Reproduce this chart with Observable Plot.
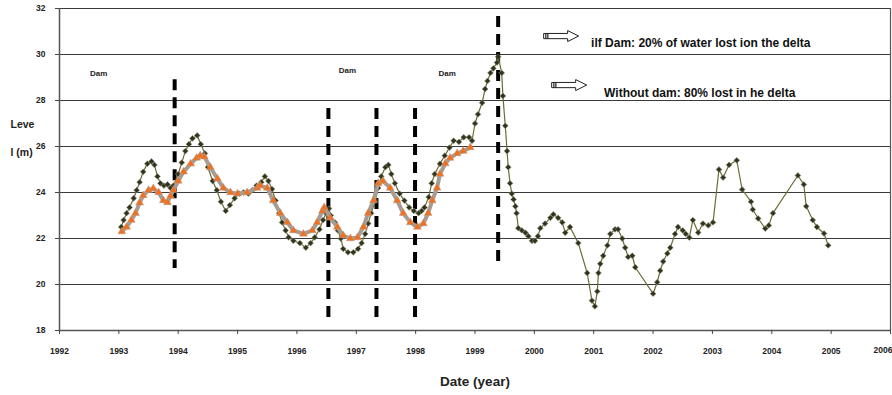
<!DOCTYPE html>
<html>
<head>
<meta charset="utf-8">
<script src="https://cdn.jsdelivr.net/npm/d3@7"></script>
<script src="https://cdn.jsdelivr.net/npm/@observablehq/plot@0.6"></script>
<style>
  html, body { margin: 0; padding: 0; background: #fff; }
</style>
</head>
<body>
<div id="chart"></div>
<script>
// ---- Data ----
const xTicks = [1992, 1993, 1994, 1995, 1996, 1997, 1998, 1999, 2000, 2001, 2002, 2003, 2004, 2005, 2006];
const yTicks = [18, 20, 22, 24, 26, 28, 30, 32];

// Observed level (dark diamonds): [year, level (m)]
const darkSeries = [
  [1993.04, 22.5], [1993.08, 22.8], [1993.13, 23.1], [1993.18, 23.35], [1993.25, 23.75],
  [1993.30, 24.1], [1993.35, 24.45], [1993.41, 24.9], [1993.48, 25.25], [1993.55, 25.35],
  [1993.60, 25.2], [1993.65, 24.7], [1993.70, 24.4], [1993.76, 24.3], [1993.82, 24.35],
  [1993.87, 24.2], [1993.92, 24.3], [1994.00, 24.8], [1994.06, 25.3], [1994.12, 25.8],
  [1994.18, 26.1], [1994.24, 26.35], [1994.32, 26.48], [1994.38, 26.1], [1994.45, 25.7],
  [1994.50, 25.1], [1994.58, 24.5], [1994.65, 24.1], [1994.72, 23.6], [1994.80, 23.2],
  [1994.87, 23.45], [1994.95, 23.75], [1995.03, 23.95], [1995.10, 24.0], [1995.18, 23.95],
  [1995.25, 24.1], [1995.32, 24.3], [1995.40, 24.45], [1995.46, 24.7], [1995.52, 24.5],
  [1995.58, 24.15], [1995.64, 23.65], [1995.70, 23.1], [1995.75, 22.7], [1995.81, 22.35],
  [1995.86, 22.05], [1995.94, 21.9], [1996.05, 21.8], [1996.15, 21.6], [1996.23, 21.8],
  [1996.30, 22.05], [1996.38, 22.4], [1996.44, 22.8], [1996.49, 23.1], [1996.54, 23.3],
  [1996.57, 23.0], [1996.64, 22.7], [1996.69, 22.35], [1996.74, 22.0], [1996.78, 21.55],
  [1996.86, 21.4], [1996.95, 21.4], [1997.03, 21.55], [1997.09, 21.8], [1997.15, 22.2],
  [1997.20, 22.65], [1997.25, 23.1], [1997.32, 23.65], [1997.37, 24.2], [1997.42, 24.7],
  [1997.49, 25.1], [1997.54, 25.2], [1997.59, 24.8], [1997.65, 24.4], [1997.73, 23.95],
  [1997.81, 23.65], [1997.89, 23.35], [1997.97, 23.2], [1998.05, 23.1], [1998.10, 23.2],
  [1998.15, 23.35], [1998.22, 23.8], [1998.27, 24.4], [1998.32, 24.8], [1998.41, 25.25],
  [1998.49, 25.6], [1998.57, 25.95], [1998.64, 26.25], [1998.73, 26.2], [1998.81, 26.4],
  [1998.90, 26.4], [1998.95, 26.25], [1999.00, 27.0], [1999.05, 27.4], [1999.12, 27.9],
  [1999.17, 28.5], [1999.21, 28.85], [1999.26, 29.2], [1999.31, 29.4], [1999.37, 29.65],
  [1999.39, 29.9], [1999.45, 29.2], [1999.47, 28.2], [1999.51, 26.9], [1999.54, 25.8],
  [1999.56, 25.1], [1999.59, 24.4], [1999.62, 23.95], [1999.65, 23.7], [1999.68, 23.4],
  [1999.70, 23.1], [1999.73, 22.45], [1999.79, 22.35], [1999.85, 22.25], [1999.90, 22.1],
  [1999.96, 21.9], [2000.01, 21.9], [2000.06, 22.1], [2000.10, 22.45], [2000.18, 22.65],
  [2000.27, 22.9], [2000.32, 23.05], [2000.40, 22.9], [2000.47, 22.7], [2000.52, 22.25],
  [2000.60, 22.5], [2000.74, 21.8], [2000.89, 20.5], [2000.97, 19.3], [2001.02, 19.05],
  [2001.06, 19.7], [2001.08, 20.5], [2001.11, 20.9], [2001.16, 21.25], [2001.23, 21.7],
  [2001.28, 22.2], [2001.36, 22.4], [2001.41, 22.4], [2001.48, 22.0], [2001.53, 21.6],
  [2001.58, 21.2], [2001.65, 21.25], [2001.70, 20.75], [2002.00, 19.6], [2002.07, 20.1],
  [2002.12, 20.6], [2002.17, 21.0], [2002.24, 21.35], [2002.29, 21.6], [2002.37, 22.2],
  [2002.42, 22.5], [2002.50, 22.35], [2002.55, 22.2], [2002.61, 22.04], [2002.67, 22.8],
  [2002.76, 22.26], [2002.84, 22.65], [2002.93, 22.57], [2003.01, 22.7], [2003.11, 25.0],
  [2003.18, 24.65], [2003.28, 25.2], [2003.41, 25.4], [2003.50, 24.13], [2003.65, 23.6],
  [2003.68, 23.26], [2003.77, 22.87], [2003.89, 22.43], [2003.95, 22.57], [2004.02, 23.1],
  [2004.44, 24.74], [2004.54, 24.35], [2004.58, 23.4], [2004.69, 22.8], [2004.76, 22.5],
  [2004.88, 22.22], [2004.95, 21.7]
];

// Level with dam (orange triangles): [year, level (m)]
const damSeries = [
  [1993.05, 22.3], [1993.13, 22.5], [1993.21, 22.8], [1993.28, 23.1], [1993.35, 23.55],
  [1993.41, 23.87], [1993.50, 24.1], [1993.58, 24.17], [1993.67, 24.0], [1993.75, 23.65],
  [1993.82, 23.57], [1993.87, 23.85], [1993.92, 24.1], [1994.00, 24.5], [1994.09, 24.9],
  [1994.21, 25.25], [1994.31, 25.5], [1994.37, 25.6], [1994.44, 25.55], [1994.54, 25.1],
  [1994.66, 24.6], [1994.76, 24.2], [1994.88, 24.0], [1995.00, 23.95], [1995.16, 24.0],
  [1995.33, 24.2], [1995.38, 24.3], [1995.50, 24.2], [1995.60, 23.65], [1995.72, 23.1],
  [1995.84, 22.7], [1995.94, 22.35], [1996.11, 22.2], [1996.26, 22.35], [1996.34, 22.7],
  [1996.43, 23.2], [1996.46, 23.35], [1996.56, 22.9], [1996.68, 22.5], [1996.78, 22.13],
  [1996.90, 22.0], [1997.02, 22.04], [1997.12, 22.5], [1997.20, 23.1], [1997.29, 23.65],
  [1997.37, 24.4], [1997.45, 24.5], [1997.57, 24.2], [1997.69, 23.65], [1997.79, 23.1],
  [1997.91, 22.7], [1998.03, 22.5], [1998.13, 22.65], [1998.21, 23.1], [1998.28, 23.65],
  [1998.36, 24.2], [1998.41, 24.8], [1998.50, 25.26], [1998.58, 25.5], [1998.70, 25.7],
  [1998.80, 25.8], [1998.92, 25.96]
];

// Dashed dam markers
const dashX = [1993.94, 1996.53, 1997.34, 1997.99, 1999.39];
const dashTop = [28.9, 27.65, 27.65, 27.65, 31.65];
const dashBottom = [20.7, 18.57, 18.57, 18.57, 20.85];

// "Dam" labels
const damLabelX = [1992.66, 1996.85, 1998.53];
const damLabelY = [29.17, 29.3, 29.17];

// Annotations
const noteText = ["ilf Dam: 20% of water lost ion the delta", "Without dam: 80% lost in he delta"];
const noteX = [2000.956, 2001.175];
const noteY = [30.48, 28.33];
const arrowX = [2000.165, 2000.30];
const arrowY = [30.78, 28.65];

// ---- Tables ----
const dark = darkSeries.map(([year, level]) => ({year, level}));
const dam = damSeries.map(([year, level]) => ({year, level}));
const dashes = dashX.map((d, i) => ({x: d, top: dashTop[i], bottom: dashBottom[i]}));
const damLabels = damLabelX.map((d, i) => ({x: d, y: damLabelY[i], t: "Dam"}));
const notes = noteText.map((t, i) => ({t, x: noteX[i], y: noteY[i]}));
const lastTick = xTicks[xTicks.length - 1];

const font = "'Liberation Sans', Arial, Helvetica, sans-serif";

function arrows(index, scales) {
  const g = d3.create("svg:g");
  arrowX.forEach((ax, i) => {
    const x0 = scales.x(ax), y0 = scales.y(arrowY[i]);
    const L = 35, sh = 2.6, hh = 5.5, hl = 11;
    g.append("path")
      .attr("d", `M${x0},${y0 - sh}L${x0 + L - hl},${y0 - sh}L${x0 + L - hl},${y0 - hh}L${x0 + L},${y0}L${x0 + L - hl},${y0 + hh}L${x0 + L - hl},${y0 + sh}L${x0},${y0 + sh}Z`)
      .attr("fill", "white").attr("stroke", "#222").attr("stroke-width", 1);
    [2.2, 4.2].forEach(o => g.append("line")
      .attr("x1", x0 + o).attr("x2", x0 + o).attr("y1", y0 - sh).attr("y2", y0 + sh)
      .attr("stroke", "#222").attr("stroke-width", 1.2));
  });
  return g.node();
}

const chart = Plot.plot({
  width: 892,
  height: 395,
  marginLeft: 59,
  marginRight: 2,
  marginTop: 8,
  marginBottom: 65,
  style: {fontFamily: font, background: "white", color: "#222"},
  x: {domain: [1992, 2006]},
  y: {domain: [18, 32]},
  marks: [
    Plot.gridY(yTicks, {stroke: "#3a3a3a", strokeOpacity: 1, strokeWidth: 1}),
    Plot.ruleX([1992], {stroke: "#555", strokeWidth: 1.5}),
    Plot.ruleX([2006], {stroke: "#555", strokeWidth: 1.2}),
    Plot.ruleY([18], {stroke: "#555", strokeWidth: 1.5}),
    Plot.axisX({ticks: xTicks, tickFormat: d => d === lastTick ? "" : String(d), tickSize: 4, tickPadding: 13, label: null,
      fontSize: 8.5, fontWeight: "bold", stroke: "#444"}),
    Plot.text([lastTick], {x: d => d, frameAnchor: "bottom", dy: 22, text: d => String(d), textAnchor: "end", dx: 2,
      fontSize: 8.5, fontWeight: "bold", fill: "#222"}),
    Plot.axisY({ticks: yTicks, tickFormat: d => String(d), tickSize: 4, tickPadding: 10, label: null,
      fontSize: 8.5, fontWeight: "bold", stroke: "#444"}),
    Plot.ruleX(dashes, {x: "x", y1: "top", y2: "bottom", stroke: "black", strokeWidth: 4, strokeDasharray: "11,7"}),
    Plot.line(dark, {x: "year", y: "level", stroke: "#6e6a38", strokeWidth: 1.2}),
    Plot.dot(dark, {x: "year", y: "level", symbol: "diamond2", r: 2.6, fill: "#30341a", stroke: "#8a8a78", strokeWidth: 0.6}),
    Plot.line(dam, {x: "year", y: "level", stroke: "#a89c92", strokeWidth: 4}),
    Plot.dot(dam, {x: "year", y: "level", symbol: "triangle", r: 2.9, fill: "#f07020", stroke: "#b0a090", strokeWidth: 0.5}),
    Plot.text(damLabels, {x: "x", y: "y", text: "t", fontSize: 8, fontWeight: "bold", fill: "#222"}),
    Plot.text(notes, {x: "x", y: "y", text: "t", textAnchor: "start", fontSize: 12, fontWeight: "bold", fill: "#111"}),
    arrows,
    Plot.text(["Leve", "l (m)"], {frameAnchor: "left", y: [26.95, 25.75], text: d => d, dx: -49, textAnchor: "start",
      fontSize: 10.5, fontWeight: "bold", fill: "#222"}),
    Plot.text(["Date (year)"], {frameAnchor: "bottom", text: d => d, dy: 55, fontSize: 13.5, fontWeight: "bold", fill: "#222"})
  ]
});
document.getElementById("chart").appendChild(chart);
</script>
</body>
</html>
